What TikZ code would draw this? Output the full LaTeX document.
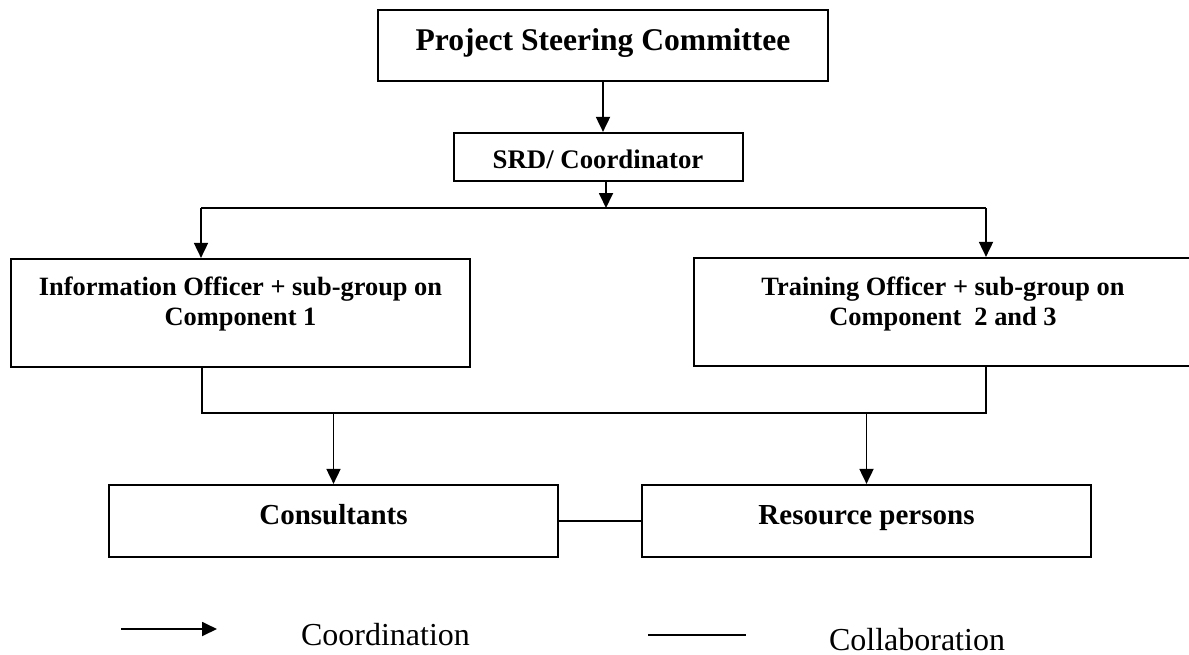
\documentclass[tikz,border=0pt]{standalone}
\usepackage{fontspec}
\setmainfont{Liberation Serif}
\usetikzlibrary{arrows.meta}
\tikzset{>={Triangle[length=7.5pt,width=7pt]}}
\tikzset{
    box/.style={draw, line width=1.1pt, inner sep=0pt},
    txt/.style={align=center, inner sep=0pt, anchor=base},
    link/.style={line width=0.9pt}
}

\begin{document}
\begin{tikzpicture}[x=0.5pt, y=-0.5pt]
    \useasboundingbox (0, 0) rectangle (1189, 654);
    % boxes and their texts
    \node [box, minimum width=225pt, minimum height=35.5pt] (psc) at (603, 45.5) {};
    \node [txt, font=\bfseries\fontsize{15.8}{19}\selectfont] (psctext) at (603, 50) {Project Steering Committee};
    \node [box, minimum width=144.5pt, minimum height=24pt] (srd) at (598.5, 157) {};
    \node [txt, font=\bfseries\fontsize{13.4}{16}\selectfont] (srdtext) at (598, 168) {SRD/ Coordinator};
    \node [box, minimum width=229.5pt, minimum height=54pt] (info) at (240.5, 313) {};
    \node [txt, font=\bfseries\fontsize{13.2}{15}\selectfont] (infotext) at (240.5, 325) {Information Officer + sub-group on\\Component 1};
    \node [box, minimum width=249pt, minimum height=54pt] (train) at (943, 312) {};
    \node [txt, font=\bfseries\fontsize{13.2}{15}\selectfont] (traintext) at (943, 325) {Training Officer + sub-group on\\Component\ \ 2 and 3};
    \node [box, minimum width=224.5pt, minimum height=36pt] (cons) at (333.5, 521) {};
    \node [txt, font=\bfseries\fontsize{14.5}{17}\selectfont] (constext) at (333.5, 524) {Consultants};
    \node [box, minimum width=224.5pt, minimum height=36pt] (res) at (866.5, 521) {};
    \node [txt, font=\bfseries\fontsize{14.5}{17}\selectfont] (restext) at (866.5, 524) {Resource persons};
    % connectors
    \coordinate (split) at (606, 208);
    \coordinate (bl) at (201, 208);
    \coordinate (br) at (986, 208);
    \coordinate (jl) at (202, 413);
    \coordinate (jr) at (986, 413);
    \draw [link, ->] (psc.south) -- (psc.south |- srd.north);
    \draw [link, ->] (split |- srd.south) -- (split);
    \draw [link] (bl) -- (br);
    \draw [link, ->] (bl) -- (bl |- info.north);
    \draw [link, ->] (br) -- (br |- train.north);
    \draw [link] (jl |- info.south) -- (jl) -- (jr) -- (jr |- train.south);
    \draw [link, ->] (cons.north |- jl) -- (cons.north);
    \draw [link, ->] (res.north |- jl) -- (res.north);
    \draw [link] (cons.east) -- (res.west);
    % legend
    \coordinate (coa) at (121, 629);
    \coordinate (cob) at (217, 629);
    \coordinate (cla) at (648, 635);
    \coordinate (clb) at (746, 635);
    \draw [link, ->] (coa) -- (cob);
    \node [txt, font=\fontsize{16}{19}\selectfont] (coord) at (385.5, 645) {Coordination};
    \draw [link] (cla) -- (clb);
    \node [txt, font=\fontsize{16}{19}\selectfont] (collab) at (917, 650) {Collaboration};
\end{tikzpicture}
\end{document}
